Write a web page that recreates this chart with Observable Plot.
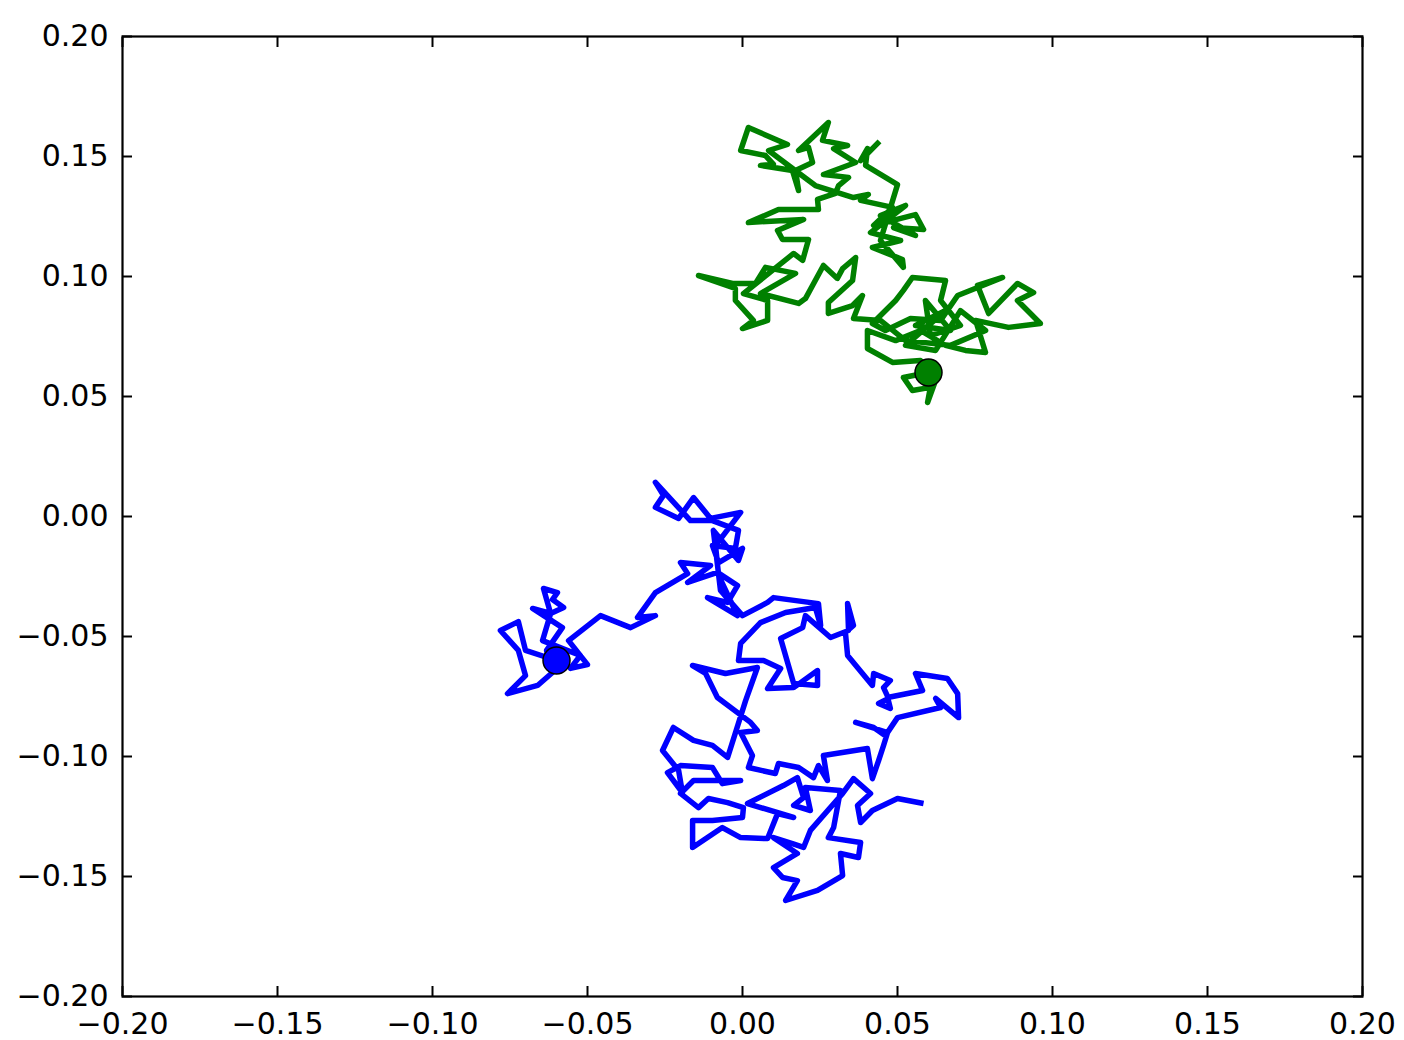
<!DOCTYPE html>
<html>
<head>
<meta charset="utf-8">
<script src="https://cdn.jsdelivr.net/npm/d3@7"></script>
<script src="https://cdn.jsdelivr.net/npm/@observablehq/plot@0.6"></script>
<style>
  html, body { margin: 0; padding: 0; background: #ffffff; }
  #chart svg { display: block; }
</style>
</head>
<body>
<div id="chart"></div>
<script>
// Random walk 1 (blue), starting at (-0.06, -0.06)
const blueX = [-0.0600,-0.0700,-0.0723,-0.0781,-0.0723,-0.0700,-0.0758,-0.0661,-0.0613,-0.0632,-0.0581,-0.0677,-0.0619,-0.0577,-0.0613,-0.0597,-0.0642,-0.0619,-0.0645,-0.0523,-0.0555,-0.0500,-0.0561,-0.0458,-0.0361,-0.0281,-0.0339,-0.0281,-0.0177,-0.0200,-0.0103,-0.0177,-0.0081,-0.0016,-0.0048,-0.0113,-0.0016,-0.0077,-0.0087,-0.0006,-0.0103,-0.0158,-0.0206,-0.0281,-0.0255,-0.0281,-0.0168,-0.0097,-0.0013,-0.0023,-0.0097,-0.0077,0.0000,-0.0013,-0.0094,-0.0071,0.0000,0.0081,0.0100,0.0245,0.0252,0.0235,0.0139,0.0058,-0.0006,-0.0013,0.0068,0.0123,0.0081,0.0165,0.0242,0.0242,0.0165,0.0123,0.0194,0.0203,0.0284,0.0342,0.0339,0.0358,0.0332,0.0339,0.0419,0.0423,0.0477,0.0455,0.0471,0.0439,0.0477,0.0468,0.0581,0.0558,0.0661,0.0694,0.0697,0.0623,0.0639,0.0500,0.0461,0.0423,0.0365,0.0468,0.0455,0.0439,0.0419,0.0403,0.0261,0.0274,0.0245,0.0229,0.0181,0.0116,0.0106,0.0019,0.0032,-0.0006,0.0048,0.0026,-0.0081,-0.0119,-0.0161,-0.0055,0.0048,0.0010,-0.0048,-0.0097,-0.0158,-0.0223,-0.0258,-0.0206,-0.0194,-0.0242,-0.0200,-0.0097,-0.0065,-0.0006,-0.0158,-0.0200,-0.0142,-0.0110,-0.0048,0.0003,0.0000,-0.0097,-0.0161,-0.0161,-0.0065,-0.0006,0.0081,0.0113,0.0165,0.0016,0.0132,0.0177,0.0197,0.0165,0.0219,0.0203,0.0316,0.0294,0.0277,0.0381,0.0374,0.0316,0.0323,0.0242,0.0139,0.0177,0.0129,0.0100,0.0177,0.0100,0.0161,0.0197,0.0219,0.0323,0.0358,0.0413,0.0371,0.0381,0.0419,0.0500,0.0584];
const blueY = [-0.0600,-0.0558,-0.0438,-0.0475,-0.0558,-0.0663,-0.0738,-0.0704,-0.0650,-0.0558,-0.0463,-0.0383,-0.0404,-0.0379,-0.0346,-0.0317,-0.0300,-0.0404,-0.0517,-0.0579,-0.0633,-0.0617,-0.0517,-0.0413,-0.0463,-0.0413,-0.0421,-0.0317,-0.0238,-0.0192,-0.0204,-0.0275,-0.0233,-0.0288,-0.0358,-0.0338,-0.0413,-0.0246,-0.0121,0.0017,-0.0008,0.0079,-0.0008,0.0038,0.0088,0.0142,-0.0017,-0.0017,-0.0058,-0.0133,-0.0121,-0.0192,-0.0133,-0.0183,-0.0058,-0.0308,-0.0413,-0.0358,-0.0338,-0.0363,-0.0454,-0.0379,-0.0400,-0.0442,-0.0529,-0.0600,-0.0600,-0.0633,-0.0717,-0.0713,-0.0642,-0.0704,-0.0696,-0.0508,-0.0463,-0.0413,-0.0504,-0.0475,-0.0363,-0.0454,-0.0483,-0.0579,-0.0704,-0.0654,-0.0683,-0.0713,-0.0758,-0.0779,-0.0800,-0.0754,-0.0725,-0.0654,-0.0675,-0.0738,-0.0838,-0.0758,-0.0796,-0.0838,-0.0913,-0.0879,-0.0858,-0.0900,-0.0954,-0.1017,-0.1092,-0.0967,-0.0996,-0.1100,-0.1038,-0.1088,-0.1046,-0.1029,-0.1071,-0.1046,-0.0996,-0.0900,-0.0892,-0.0858,-0.0754,-0.0654,-0.0621,-0.0654,-0.0629,-0.0767,-0.1004,-0.0954,-0.0933,-0.0879,-0.0975,-0.1058,-0.1150,-0.1067,-0.1038,-0.1046,-0.1113,-0.1100,-0.1100,-0.1154,-0.1213,-0.1175,-0.1192,-0.1213,-0.1254,-0.1267,-0.1267,-0.1379,-0.1296,-0.1338,-0.1342,-0.1238,-0.1254,-0.1196,-0.1121,-0.1088,-0.1171,-0.1204,-0.1225,-0.1129,-0.1142,-0.1296,-0.1338,-0.1358,-0.1421,-0.1404,-0.1496,-0.1558,-0.1600,-0.1517,-0.1504,-0.1463,-0.1404,-0.1338,-0.1363,-0.1379,-0.1308,-0.1154,-0.1092,-0.1154,-0.1204,-0.1275,-0.1225,-0.1175,-0.1196];

// Random walk 2 (green), starting at (0.06, 0.06)
const greenX = [0.0600,0.0519,0.0548,0.0606,0.0597,0.0623,0.0574,0.0484,0.0403,0.0403,0.0494,0.0574,0.0655,0.0719,0.0784,0.0752,0.0858,0.0961,0.0887,0.0939,0.0887,0.0794,0.0758,0.0839,0.0694,0.0639,0.0542,0.0461,0.0419,0.0494,0.0519,0.0548,0.0655,0.0639,0.0703,0.0606,0.0590,0.0671,0.0558,0.0655,0.0526,0.0623,0.0703,0.0784,0.0671,0.0526,0.0445,0.0358,0.0387,0.0355,0.0277,0.0277,0.0355,0.0365,0.0323,0.0306,0.0261,0.0203,0.0181,0.0058,0.0171,0.0074,0.0042,-0.0032,-0.0142,-0.0023,-0.0023,0.0035,0.0000,0.0081,0.0081,0.0003,0.0165,0.0194,0.0213,0.0129,0.0113,0.0197,0.0019,0.0116,0.0245,0.0242,0.0300,0.0310,0.0342,0.0261,0.0365,0.0294,0.0339,0.0258,0.0277,0.0181,0.0213,0.0226,0.0171,0.0181,0.0161,0.0058,0.0100,0.0074,-0.0006,0.0019,0.0145,0.0084,0.0235,0.0358,0.0406,0.0381,0.0484,0.0423,0.0558,0.0584,0.0487,0.0558,0.0445,0.0526,0.0413,0.0510,0.0419,0.0516,0.0519,0.0445,0.0500,0.0397,0.0403,0.0381,0.0442];
const greenY = [0.0600,0.0579,0.0525,0.0538,0.0475,0.0567,0.0650,0.0642,0.0700,0.0775,0.0733,0.0775,0.0713,0.0692,0.0683,0.0817,0.0788,0.0804,0.0900,0.0933,0.0971,0.0846,0.0963,0.0996,0.0921,0.0817,0.0825,0.0775,0.0804,0.0900,0.0942,0.0996,0.0983,0.0900,0.0796,0.0754,0.0900,0.0775,0.0796,0.0858,0.0713,0.0692,0.0858,0.0775,0.0713,0.0733,0.0817,0.0825,0.0921,0.0879,0.0846,0.0892,0.0983,0.1079,0.1033,0.0992,0.1046,0.0908,0.0888,0.0929,0.1013,0.1038,0.0971,0.0971,0.1004,0.0950,0.0900,0.0817,0.0783,0.0817,0.0900,0.0929,0.1096,0.1067,0.1154,0.1154,0.1192,0.1238,0.1225,0.1279,0.1279,0.1321,0.1346,0.1379,0.1413,0.1425,0.1475,0.1533,0.1546,0.1567,0.1642,0.1525,0.1538,0.1475,0.1442,0.1358,0.1442,0.1463,0.1467,0.1504,0.1525,0.1621,0.1550,0.1525,0.1379,0.1329,0.1342,0.1317,0.1288,0.1213,0.1258,0.1196,0.1204,0.1171,0.1254,0.1296,0.1183,0.1150,0.1121,0.1071,0.1038,0.1150,0.1383,0.1463,0.1533,0.1483,0.1563];

const xTicks = [-0.20,-0.15,-0.10,-0.05,0.00,0.05,0.10,0.15,0.20];
const yTicks = [-0.20,-0.15,-0.10,-0.05,0.00,0.05,0.10,0.15,0.20];

const blue = blueX.map((x, i) => ({x, y: blueY[i]}));
const green = greenX.map((x, i) => ({x, y: greenY[i]}));
const starts = [
  {x: blueX[0], y: blueY[0], c: "#0000ff"},
  {x: greenX[0], y: greenY[0], c: "#008000"}
];

const plot = Plot.plot({
  width: 1404,
  height: 1040,
  marginLeft: 122,
  marginRight: 42,
  marginTop: 36,
  marginBottom: 44,
  style: {fontFamily: "'DejaVu Sans', sans-serif", fontSize: "30px", background: "#ffffff", color: "#000000"},
  x: {domain: [-0.2, 0.2], label: null},
  y: {domain: [-0.2, 0.2], label: null},
  marks: [
    Plot.line(blue, {x: "x", y: "y", stroke: "#0000ff", strokeWidth: 5.5, strokeLinejoin: "round", strokeLinecap: "butt"}),
    Plot.line(green, {x: "x", y: "y", stroke: "#008000", strokeWidth: 5.5, strokeLinejoin: "round", strokeLinecap: "butt"}),
    Plot.dot(starts, {x: "x", y: "y", r: 13.5, fill: "c", stroke: "#000000", strokeWidth: 1.5}),
    Plot.frame({stroke: "#000000", strokeWidth: 2.2}),
    Plot.axisX(xTicks, {anchor: "bottom", tickSize: 0, tickPadding: 16, tickFormat: d3.format(".2f"), fontSize: 30}),
    Plot.axisY(yTicks, {anchor: "left", tickSize: 0, tickPadding: 14, tickFormat: d3.format(".2f"), fontSize: 30}),
    Plot.axisX(xTicks, {anchor: "bottom", tickSize: -10, text: null, strokeWidth: 2}),
    Plot.axisX(xTicks, {anchor: "top", tickSize: -10, text: null, strokeWidth: 2}),
    Plot.axisY(yTicks, {anchor: "left", tickSize: -10, text: null, strokeWidth: 2}),
    Plot.axisY(yTicks, {anchor: "right", tickSize: -10, text: null, strokeWidth: 2})
  ]
});
document.getElementById("chart").appendChild(plot);
</script>
</body>
</html>
